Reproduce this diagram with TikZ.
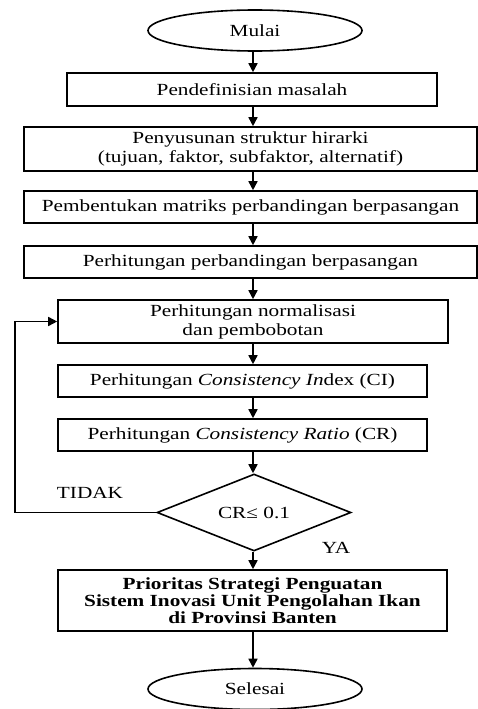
\documentclass[tikz,border=0pt]{standalone}
\usepackage{fontspec}
\setmainfont{Liberation Serif}[FakeStretch=1.25]
\usetikzlibrary{shapes.geometric,arrows.meta}
\begin{document}
\begin{tikzpicture}[x=1pt,y=-1pt,
  txt/.style={font=\fontsize{17}{19}\selectfont},
  box/.style={txt,draw,line width=1.6pt,inner sep=0pt,align=center},
  term/.style={txt,draw,ellipse,line width=1.6pt,inner sep=0pt},
  arr/.style={-{Triangle[length=9pt,width=9pt]},line width=1.6pt}]
\useasboundingbox (0,0) rectangle (478,709);
\coordinate (ax) at (253,0);
\coordinate (lp) at (15,0);
\node[term,minimum width=214pt,minimum height=41pt] (start) at (255,30.5) {Mulai};
\node[box,minimum width=370pt,minimum height=33pt] (b1) at (252,89.5) {Pendefinisian masalah};
\node[box,minimum width=453pt,minimum height=44pt] (b2) at (250.5,149) {Penyusunan struktur hirarki\\(tujuan, faktor, subfaktor, alternatif)};
\node[box,minimum width=453pt,minimum height=32pt] (b3) at (250.5,207) {Pembentukan matriks perbandingan berpasangan};
\node[box,minimum width=453pt,minimum height=32pt] (b4) at (250.5,262) {Perhitungan perbandingan berpasangan};
\node[box,minimum width=390pt,minimum height=43pt] (b5) at (253,321.5) {Perhitungan normalisasi\\dan pembobotan};
\node[box,minimum width=369pt,minimum height=32pt] (b6) at (242.5,381) {Perhitungan \textit{Consistency In}dex (CI)};
\node[box,minimum width=369pt,minimum height=32pt] (b7) at (242.5,435) {Perhitungan \textit{Consistency Ratio} (CR)};
\node[txt,draw,diamond,line width=1.6pt,inner sep=0pt,aspect=2.5,minimum width=194pt,minimum height=77pt] (dia) at (254,512.5) {CR≤ 0.1};
\node[box,minimum width=389pt,minimum height=61pt,font=\fontsize{17}{17}\selectfont\bfseries] (b8) at (252.5,600.5) {Prioritas Strategi Penguatan\\Sistem Inovasi Unit Pengolahan Ikan\\di Provinsi Banten};
\node[term,minimum width=214pt,minimum height=41pt] (end) at (255,689) {Selesai};
\node[txt] (tidak) at (90,493) {TIDAK};
\node[txt] (ya) at (336,548) {YA};
\draw[arr] (start.south -| ax) -- (b1.north -| ax);
\draw[arr] (b1.south -| ax) -- (b2.north -| ax);
\draw[arr] (b2.south -| ax) -- (b3.north -| ax);
\draw[arr] (b3.south -| ax) -- (b4.north -| ax);
\draw[arr] (b4.south -| ax) -- (b5.north -| ax);
\draw[arr] (b5.south -| ax) -- (b6.north -| ax);
\draw[arr] (b6.south -| ax) -- (b7.north -| ax);
\draw[arr] (b7.south -| ax) -- (dia.north -| ax);
\draw[arr] (dia.south -| ax) -- (b8.north -| ax);
\draw[arr] (b8.south -| ax) -- (end.north -| ax);
\draw[arr] (dia.west) -- (dia.west -| lp) -- (b5.west -| lp) -- (b5.west);
\end{tikzpicture}
\end{document}
